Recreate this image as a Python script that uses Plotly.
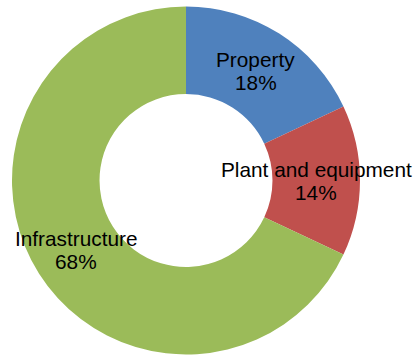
import math
import plotly.graph_objects as go

# Asset composition
categories = ["Property", "Plant and equipment", "Infrastructure"]
shares = [18, 14, 68]
colors = ["#4F81BD", "#C0504D", "#9BBB59"]

W, H = 414, 356
dom_x = [12 / W, 360 / W]
dom_y = [1 / H, 350 / H]
hole = 0.497

fig = go.Figure(go.Pie(
    labels=categories,
    values=shares,
    hole=hole,
    sort=False,
    direction="clockwise",
    rotation=0,
    marker=dict(colors=colors, line=dict(width=0)),
    textinfo="none",
    hoverinfo="label+percent",
    domain=dict(x=dom_x, y=dom_y),
    showlegend=False,
))

# Place each label at the middle of its ring segment
cx = (dom_x[0] + dom_x[1]) / 2 * W
cy = (dom_y[0] + dom_y[1]) / 2 * H
r_out = min((dom_x[1] - dom_x[0]) * W, (dom_y[1] - dom_y[0]) * H) / 2
r_mid = r_out * (1 + hole) / 2
total = sum(shares)
font = dict(family="Liberation Sans, Arial, sans-serif", size=20.8, color="#000000")
cum = 0
annotations = []
for name, v in zip(categories, shares):
    mid = (cum + v / 2) / total * 2 * math.pi
    cum += v
    px = cx + r_mid * math.sin(mid)
    py = cy + r_mid * math.cos(mid)
    pct = f"{round(v / total * 100)}%"
    for txt, shift in ((name, 11.5), (pct, -11.5)):
        annotations.append(dict(
            x=px / W, y=py / H, xref="paper", yref="paper",
            xanchor="center", yanchor="middle", yshift=shift,
            text=txt, showarrow=False, font=font,
        ))

fig.update_layout(
    width=W, height=H,
    margin=dict(l=0, r=0, t=0, b=0),
    paper_bgcolor="white",
    plot_bgcolor="white",
    annotations=annotations,
)

fig.write_html("out.html")
